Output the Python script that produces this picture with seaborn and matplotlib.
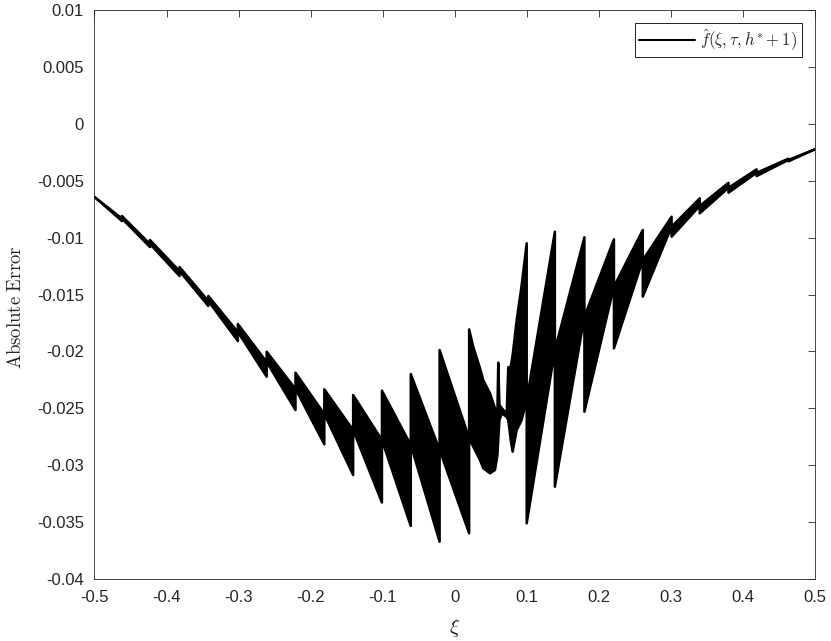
import numpy as np
import matplotlib
matplotlib.use('Agg')
import matplotlib.pyplot as plt
import seaborn as sns

# ========== 数据 ==========
# 左端 / 右端
xi_start, err_start = -0.5, -0.00643
xi_end, err_end = 0.5, -0.00224

# 左半部分锯齿：竖线处 (顶, 中, 底)
left_xi = [-0.462, -0.423, -0.382, -0.342, -0.301, -0.261, -0.221,
           -0.181, -0.141, -0.101, -0.061, -0.021, 0.020]
left_top = [-0.00810, -0.01021, -0.01258, -0.01513, -0.01759, -0.02003, -0.02187,
            -0.02333, -0.02383, -0.02345, -0.02199, -0.01988, -0.01806]
left_mid = [-0.00832, -0.01056, -0.01294, -0.01557, -0.01830, -0.02093, -0.02330,
            -0.02550, -0.02691, -0.02779, -0.02822, -0.02866, -0.02761]
left_bot = [-0.00854, -0.01083, -0.01337, -0.01601, -0.01909, -0.02222, -0.02515,
            -0.02816, -0.03086, -0.03328, -0.03534, -0.03672, -0.03598]

# 中间不规则区域：上下边缘
mid_xi = [0.0257, 0.0350, 0.0396, 0.0489, 0.0559, 0.0593, 0.0604, 0.0621,
          0.0652, 0.0721, 0.0743, 0.0777, 0.0804, 0.0860, 0.0929]
mid_upper = [-0.01959, -0.02146, -0.02251, -0.02368, -0.02500, -0.02515, -0.02099, -0.02471,
             -0.02497, -0.02550, -0.02140, -0.02135, -0.02032, -0.01724, -0.01417]
mid_lower = [-0.02837, -0.02954, -0.03027, -0.03071, -0.03042, -0.02910, -0.02779, -0.02603,
             -0.02544, -0.02576, -0.02603, -0.02779, -0.02881, -0.02691, -0.02603]

# 右半部分锯齿：竖线处 (顶, 中, 底)
right_xi = [0.0999, 0.139, 0.180, 0.221, 0.261, 0.301, 0.340, 0.380, 0.419, 0.463]
right_top = [-0.01050, -0.00948, -0.00997, -0.01015, -0.00933, -0.00816, -0.00655,
             -0.00518, -0.00400, -0.00307]
right_mid = [-0.02427, -0.01988, -0.01695, -0.01431, -0.01197, -0.00904, -0.00722,
             -0.00562, -0.00430, -0.00318]
right_bot = [-0.03511, -0.03189, -0.02530, -0.01973, -0.01519, -0.00992, -0.00787,
             -0.00605, -0.00459, -0.00330]

x_ticks = [-0.5, -0.4, -0.3, -0.2, -0.1, 0, 0.1, 0.2, 0.3, 0.4, 0.5]
y_ticks = [0.01, 0.005, 0, -0.005, -0.01, -0.015, -0.02, -0.025, -0.03, -0.035, -0.04]


def build_edges():
    """把锯齿数据拼成上下两条边缘"""
    xs, up, lo = [xi_start], [err_start], [err_start]
    for x, t, m, b in zip(left_xi, left_top, left_mid, left_bot):
        xs += [x, x]
        up += [m, t]
        lo += [b, m]
    xs += mid_xi
    up += mid_upper
    lo += mid_lower
    for x, t, m, b in zip(right_xi, right_top, right_mid, right_bot):
        xs += [x, x]
        up += [t, m]
        lo += [m, b]
    xs.append(xi_end)
    up.append(err_end)
    lo.append(err_end)
    return np.array(xs), np.array(up), np.array(lo)


sns.set_theme(style='white')
plt.rcParams['font.family'] = ['Liberation Sans', 'DejaVu Sans']
plt.rcParams['mathtext.fontset'] = 'cm'
plt.rcParams['axes.unicode_minus'] = False

fig = plt.figure(figsize=(8.31, 6.41), dpi=100)
ax = fig.add_axes([0.1137, 0.0967, 0.867, 0.8877])

xs, up, lo = build_edges()
ax.fill_between(xs, lo, up, color='black', linewidth=0)
sns.lineplot(x=xs, y=up, estimator=None, sort=False, color='black', lw=1.8, ax=ax,
             label=r'$\hat{f}(\xi,\tau,h^{*}+1)$')
sns.lineplot(x=xs, y=lo, estimator=None, sort=False, color='black', lw=1.8, ax=ax)

ax.set_xlim(-0.5, 0.5)
ax.set_ylim(-0.04, 0.01)
ax.set_xticks(x_ticks)
ax.set_yticks(y_ticks)
ax.set_xticklabels(['%g' % v for v in x_ticks])
ax.set_yticklabels(['%g' % v for v in y_ticks])
ax.tick_params(direction='in', length=5, width=0.6, colors='#262626', labelsize=12,
               top=True, right=True, labelcolor='#262626')
ax.tick_params(axis='x', pad=8)
ax.tick_params(axis='y', pad=7.5)
for sp in ax.spines.values():
    sp.set_color('#262626')
    sp.set_linewidth(0.6)

ax.set_xlabel(r'$\xi$', fontsize=15, color='#262626')
ax.xaxis.set_label_coords(0.5, -0.066)
ax.xaxis.label.set_va('top')
ax.set_ylabel(r'$\mathrm{Absolute\ Error}$', fontsize=13.5, color='#262626')
ax.yaxis.set_label_coords(-0.097, 0.478)

leg = ax.legend(loc='upper right', fancybox=False, edgecolor='black', framealpha=1,
                fontsize=12, handlelength=3.4, handletextpad=0.3, borderaxespad=0.8,
                borderpad=0.25)
leg.get_frame().set_linewidth(0.6)
for h in leg.get_lines():
    h.set_linewidth(1.5)

plt.savefig('out.png', dpi=100)
plt.close()
